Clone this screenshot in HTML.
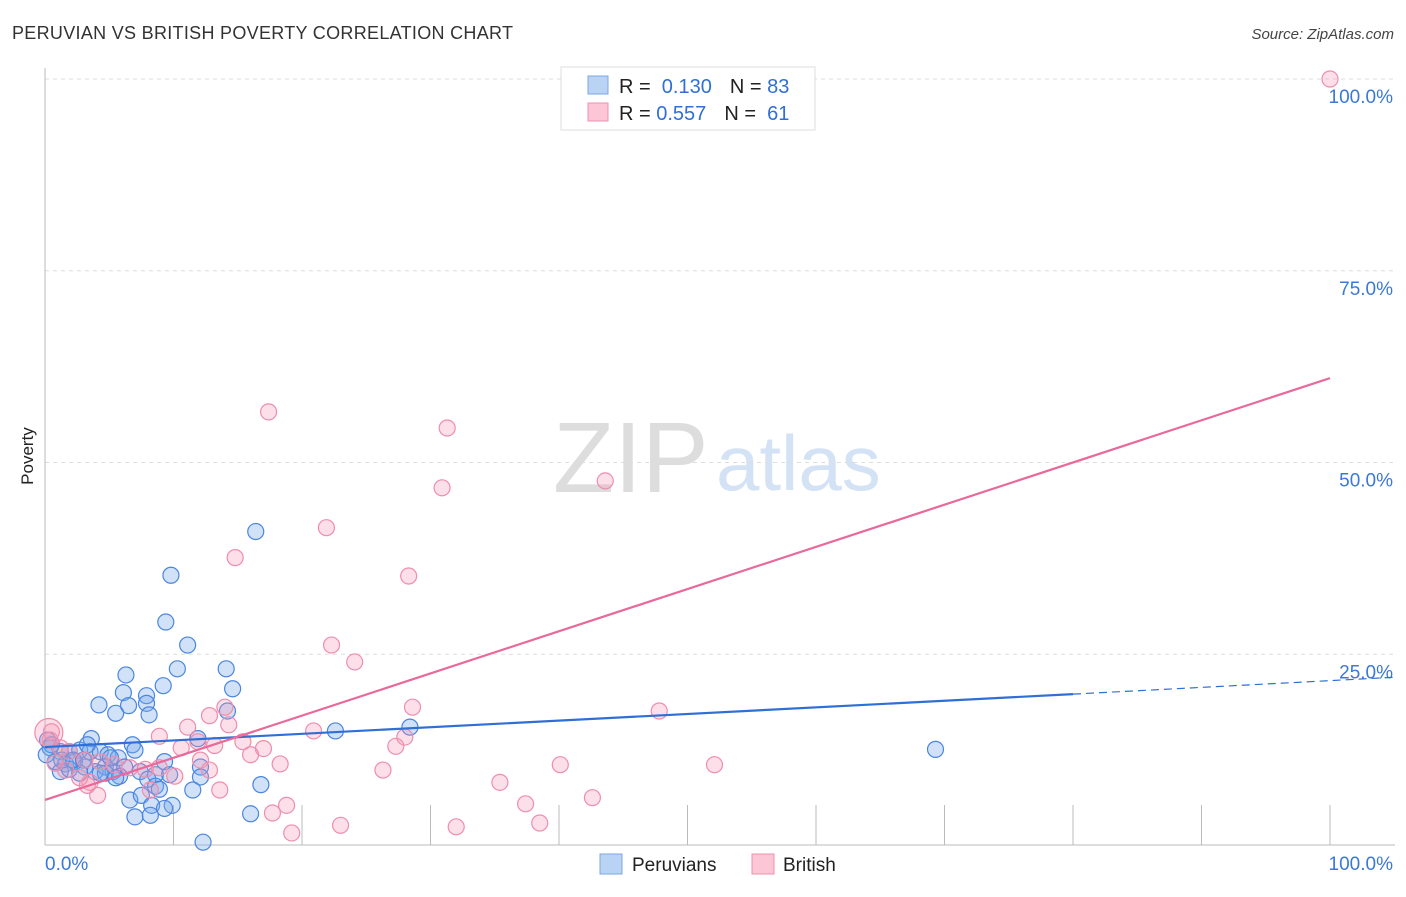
<!DOCTYPE html>
<html><head><meta charset="utf-8"><style>
body{margin:0;background:#fff;font-family:"Liberation Sans",sans-serif;}
svg text{font-family:"Liberation Sans",sans-serif;}
</style></head><body>
<svg id="chart" width="1406" height="892" xmlns="http://www.w3.org/2000/svg">
<text x="12" y="39" font-size="18" fill="#333" letter-spacing="0.3">PERUVIAN VS BRITISH POVERTY CORRELATION CHART</text>
<text x="1394" y="39" font-size="15" fill="#444" font-style="italic" text-anchor="end">Source: ZipAtlas.com</text>
<text x="33" y="456" font-size="17" fill="#222" transform="rotate(-90 33 456)" text-anchor="middle">Poverty</text>
<text x="553" y="492" font-size="100" fill="#ddd" font-family="Liberation Serif">ZIP</text>
<text x="716" y="490" font-size="78" fill="#d4e2f5">atlas</text>
<g id="grid"></g><g id="pts"></g><g id="lines"></g>
<g>
<rect x="561" y="67" width="254" height="63" fill="#fff" stroke="#ddd"/>
<rect x="588" y="76" width="20" height="18" fill="#b9d3f5" stroke="#7aa7e6"/>
<rect x="588" y="103" width="20" height="18" fill="#fcc6d6" stroke="#ee93ae"/>
<text x="619" y="93" font-size="20" fill="#222">R = <tspan fill="#2f6fd6">&#160;0.130</tspan><tspan dx="18" fill="#222">N = </tspan><tspan fill="#2f6fd6">83</tspan></text>
<text x="619" y="120" font-size="20" fill="#222">R = <tspan fill="#2f6fd6">0.557</tspan><tspan dx="18" fill="#222">N = </tspan><tspan fill="#2f6fd6">&#160;61</tspan></text>
</g>
<g>
<rect x="600" y="854" width="22" height="20" fill="#b9d3f5" stroke="#7aa7e6"/>
<text x="632" y="871" font-size="19" fill="#222">Peruvians</text>
<rect x="752" y="854" width="22" height="20" fill="#fcc6d6" stroke="#ee93ae"/>
<text x="783" y="871" font-size="19" fill="#222">British</text>
</g>
</svg>
<script>
const blueX=[16.4,9.8,9.4,11.1,14.1,10.3,6.3,14.6,9.2,6.1,7.9,4.2,6.5,7.9,5.5,8.1,14.2,22.6,28.4,69.3,3.6,6.8,11.9,0.4,1.2,1.9,2.7,3.5,4.3,4.9,5.7,0.8,1.6,2.3,3.1,3.9,4.7,5.3,6.2,7.4,8.6,9.3,9.7,12.1,12.1,1.2,1.9,2.7,4.7,5.8,8.0,8.6,11.5,16.8,6.6,7.5,8.3,9.9,9.3,7.0,8.2,16.0,12.3,0.2,0.5,3.3,7.0,5.1,1.3,2.2,3.0,5.5,4.3,0.1,8.9];
const blueY=[41,35.3,29.2,26.2,23.1,23.1,22.3,20.5,20.9,20.0,19.6,18.4,18.3,18.6,17.3,17.1,17.6,15.0,15.5,12.6,14.0,13.2,14.0,12.8,12.3,12.3,12.5,12.3,12.3,11.9,11.5,11.0,10.7,11.0,10.3,9.7,10.3,9.7,10.3,9.7,9.3,11.0,9.3,10.3,9.0,9.7,10.0,9.5,9.5,9.1,8.7,7.8,7.3,8.0,6.0,6.6,5.3,5.3,4.9,3.8,4.0,4.2,0.5,13.8,13.2,13.2,12.5,11.5,11.2,11.2,11.2,8.9,9.5,11.9,7.4];
const pinkX=[100,17.4,31.3,30.9,43.6,21.9,14.8,28.3,22.3,24.1,47.8,28.6,14.0,12.8,11.1,14.3,20.9,28.0,15.4,17.0,16.0,27.3,10.6,11.9,8.9,13.2,0.5,0.4,1.2,1.9,3.1,4.3,5.4,6.6,7.8,8.9,10.1,0.8,1.6,2.7,3.5,4.1,3.3,12.1,18.3,26.3,40.1,52.1,35.4,37.4,42.6,18.8,17.7,38.5,32.0,23.0,19.2,8.2,13.6,12.8,0.3];
const pinkY=[100,56.6,54.5,46.7,47.6,41.5,37.6,35.2,26.2,24.0,17.6,18.1,18.1,17.0,15.5,15.8,15.0,14.2,13.6,12.7,11.9,13.0,12.8,13.6,14.3,13.1,14.9,13.8,12.8,12.3,11.2,11.0,10.6,10.2,10.0,10.2,9.1,10.8,9.9,8.9,8.3,6.6,7.9,11.2,10.7,9.9,10.6,10.6,8.3,5.5,6.3,5.3,4.3,3.0,2.5,2.7,1.7,7.3,7.3,9.9,14.8];
const yTicks=[25,50,75,100];
const xTickLabels=["0.0%","100.0%"];
const ns="http://www.w3.org/2000/svg";
const X=v=>45+v*12.85, Y=v=>846-v*7.67;
function mk(p,t,a){const e=document.createElementNS(ns,t);for(const k in a)e.setAttribute(k,a[k]);p.appendChild(e);return e;}
const grid=document.getElementById('grid'),pts=document.getElementById('pts'),lines=document.getElementById('lines');
for(const t of yTicks){
 const l=mk(grid,'line',{x1:45,x2:1395,y1:Y(t),y2:Y(t),stroke:'#ddd','stroke-dasharray':'4,4'});
 
 
 const tx=mk(grid,'text',{x:1393,y:Y(t)+24,'font-size':19,fill:'#3b78d8','text-anchor':'end'});
 tx.textContent=t.toFixed(1)+'%';
 
 
}
mk(grid,'line',{x1:45,x2:45,y1:68,y2:845,stroke:'#bbb'});
mk(grid,'line',{x1:45,x2:1395,y1:845,y2:845,stroke:'#bbb'});
for(let i=1;i<=10;i++){const t=mk(grid,'line',{x1:X(i*10),x2:X(i*10),y1:805,y2:845,stroke:'#bbb'});
 
 }
xTickLabels.forEach((s,i)=>{const t=mk(grid,'text',{x:i?1393:45,y:870,'font-size':19,fill:'#3b78d8','text-anchor':i?'end':'start'});t.textContent=s;
 
 });
blueX.forEach((v,i)=>{const c=mk(pts,'circle',{cx:X(v),cy:Y(blueY[i]),r:8,fill:'rgba(120,170,235,0.35)',stroke:'#4a86e0','stroke-width':1.2});
 
 });
pinkX.forEach((v,i)=>{const c=mk(pts,'circle',{cx:X(v),cy:Y(pinkY[i]),r:i==pinkX.length-1?14:8,fill:'rgba(245,150,180,0.3)',stroke:'#ef8eac','stroke-width':1.2});
 
 });
let l=mk(lines,'line',{x1:X(0),y1:Y(12.9),x2:X(80),y2:Y(19.8),stroke:'#2f6fd6','stroke-width':2.2});


l=mk(lines,'line',{x1:X(80),y1:Y(19.8),x2:X(105),y2:Y(22.0),stroke:'#2f6fd6','stroke-width':1.2,'stroke-dasharray':'8,5'});


l=mk(lines,'line',{x1:X(0),y1:Y(6),x2:X(100),y2:Y(61),stroke:'#e8699a','stroke-width':2.2});


</script>
</body></html>
